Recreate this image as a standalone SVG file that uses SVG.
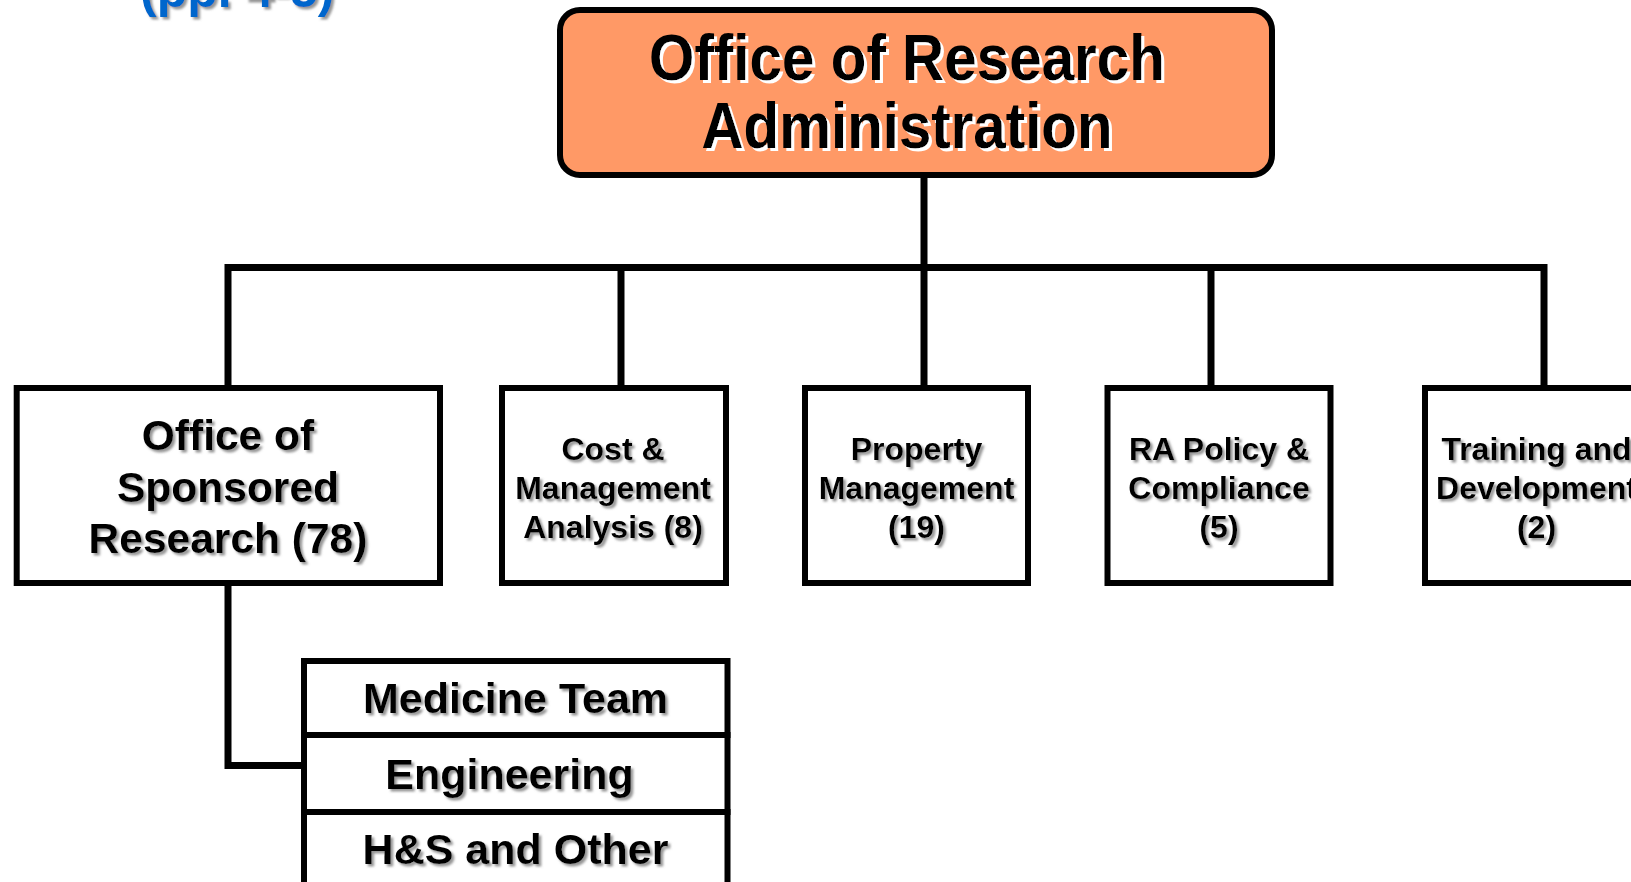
<svg xmlns="http://www.w3.org/2000/svg" width="1631" height="882" viewBox="0 0 1631 882">
  <defs>
    <filter id="shGray" x="-10%" y="-20%" width="120%" height="140%">
      <feDropShadow dx="2.5" dy="2.5" stdDeviation="0.8" flood-color="#8a8a8a" flood-opacity="0.9"/>
    </filter>
    <filter id="shWhite" x="-10%" y="-20%" width="120%" height="140%">
      <feDropShadow dx="3" dy="3" stdDeviation="0" flood-color="#ffffff" flood-opacity="1"/>
    </filter>
  </defs>
  <style>
    .t { font-family: "Liberation Sans", Arial, sans-serif; font-weight: bold; fill: #000; text-anchor: middle; }
    .box { fill: #ffffff; stroke: #000; stroke-width: 6; }
    .conn { fill: none; stroke: #000; stroke-width: 7; stroke-linejoin: miter; stroke-linecap: butt; }
    .s32 { font-size: 32px; }
    .s42 { font-size: 42.5px; }
    .s43 { font-size: 43px; }
  </style>
  <rect width="1631" height="882" fill="#ffffff"/>

  <g id="title-fragment">
    <text x="140" y="7" filter="url(#shGray)" style="font-family: 'Liberation Sans', Arial, sans-serif; font-weight: bold; font-size: 50px; fill: #0066cc;">(pp. 4-5)</text>
  </g>

  <g id="connectors">
    <path class="conn" d="M924 175 V388"/>
    <path class="conn" d="M228 388 V267.5 H1544 V388"/>
    <path class="conn" d="M621 267.5 V388"/>
    <path class="conn" d="M1211 267.5 V388"/>
    <path class="conn" d="M228 583 V765.5 H304"/>
  </g>

  <g id="ora">
    <rect x="560" y="10" width="712" height="165" rx="20" ry="20" fill="#ff9966" stroke="#000" stroke-width="6"/>
    <g class="t" filter="url(#shWhite)" style="font-size: 65px;">
      <text x="907" y="80" textLength="516" lengthAdjust="spacingAndGlyphs">Office of Research</text>
      <text x="907" y="148" textLength="411" lengthAdjust="spacingAndGlyphs">Administration</text>
    </g>
  </g>

  <g id="osr">
    <rect class="box" x="16.7" y="388" width="423.3" height="195"/>
    <g class="t s42" filter="url(#shGray)">
      <text x="228" y="450">Office of</text>
      <text x="228" y="502">Sponsored</text>
      <text x="228" y="553">Research (78)</text>
    </g>
  </g>

  <g id="cost">
    <rect class="box" x="502" y="388" width="224" height="195"/>
    <g class="t s32" filter="url(#shGray)">
      <text x="613" y="460">Cost &amp;</text>
      <text x="613" y="499">Management</text>
      <text x="613" y="538">Analysis (8)</text>
    </g>
  </g>

  <g id="property">
    <rect class="box" x="805" y="388" width="223" height="195"/>
    <g class="t s32" filter="url(#shGray)">
      <text x="916.5" y="460">Property</text>
      <text x="916.5" y="499">Management</text>
      <text x="916.5" y="538">(19)</text>
    </g>
  </g>

  <g id="policy">
    <rect class="box" x="1107.5" y="388" width="223" height="195"/>
    <g class="t s32" filter="url(#shGray)">
      <text x="1219" y="460">RA Policy &amp;</text>
      <text x="1219" y="499">Compliance</text>
      <text x="1219" y="538">(5)</text>
    </g>
  </g>

  <g id="training">
    <rect class="box" x="1425" y="388" width="223" height="195"/>
    <g class="t s32" filter="url(#shGray)">
      <text x="1536.5" y="460">Training and</text>
      <text x="1536.5" y="499">Development</text>
      <text x="1536.5" y="538">(2)</text>
    </g>
  </g>

  <g id="medicine">
    <rect class="box" x="304" y="661" width="423.5" height="74"/>
    <text class="t s43" x="515.5" y="713" filter="url(#shGray)">Medicine Team</text>
  </g>
  <g id="engineering">
    <rect class="box" x="304" y="735" width="423.5" height="77"/>
    <text class="t s43" x="509.5" y="789" filter="url(#shGray)">Engineering</text>
  </g>
  <g id="hs-other">
    <rect class="box" x="304" y="812" width="423.5" height="77"/>
    <text class="t s43" x="515.5" y="864" filter="url(#shGray)">H&amp;S and Other</text>
  </g>
</svg>
